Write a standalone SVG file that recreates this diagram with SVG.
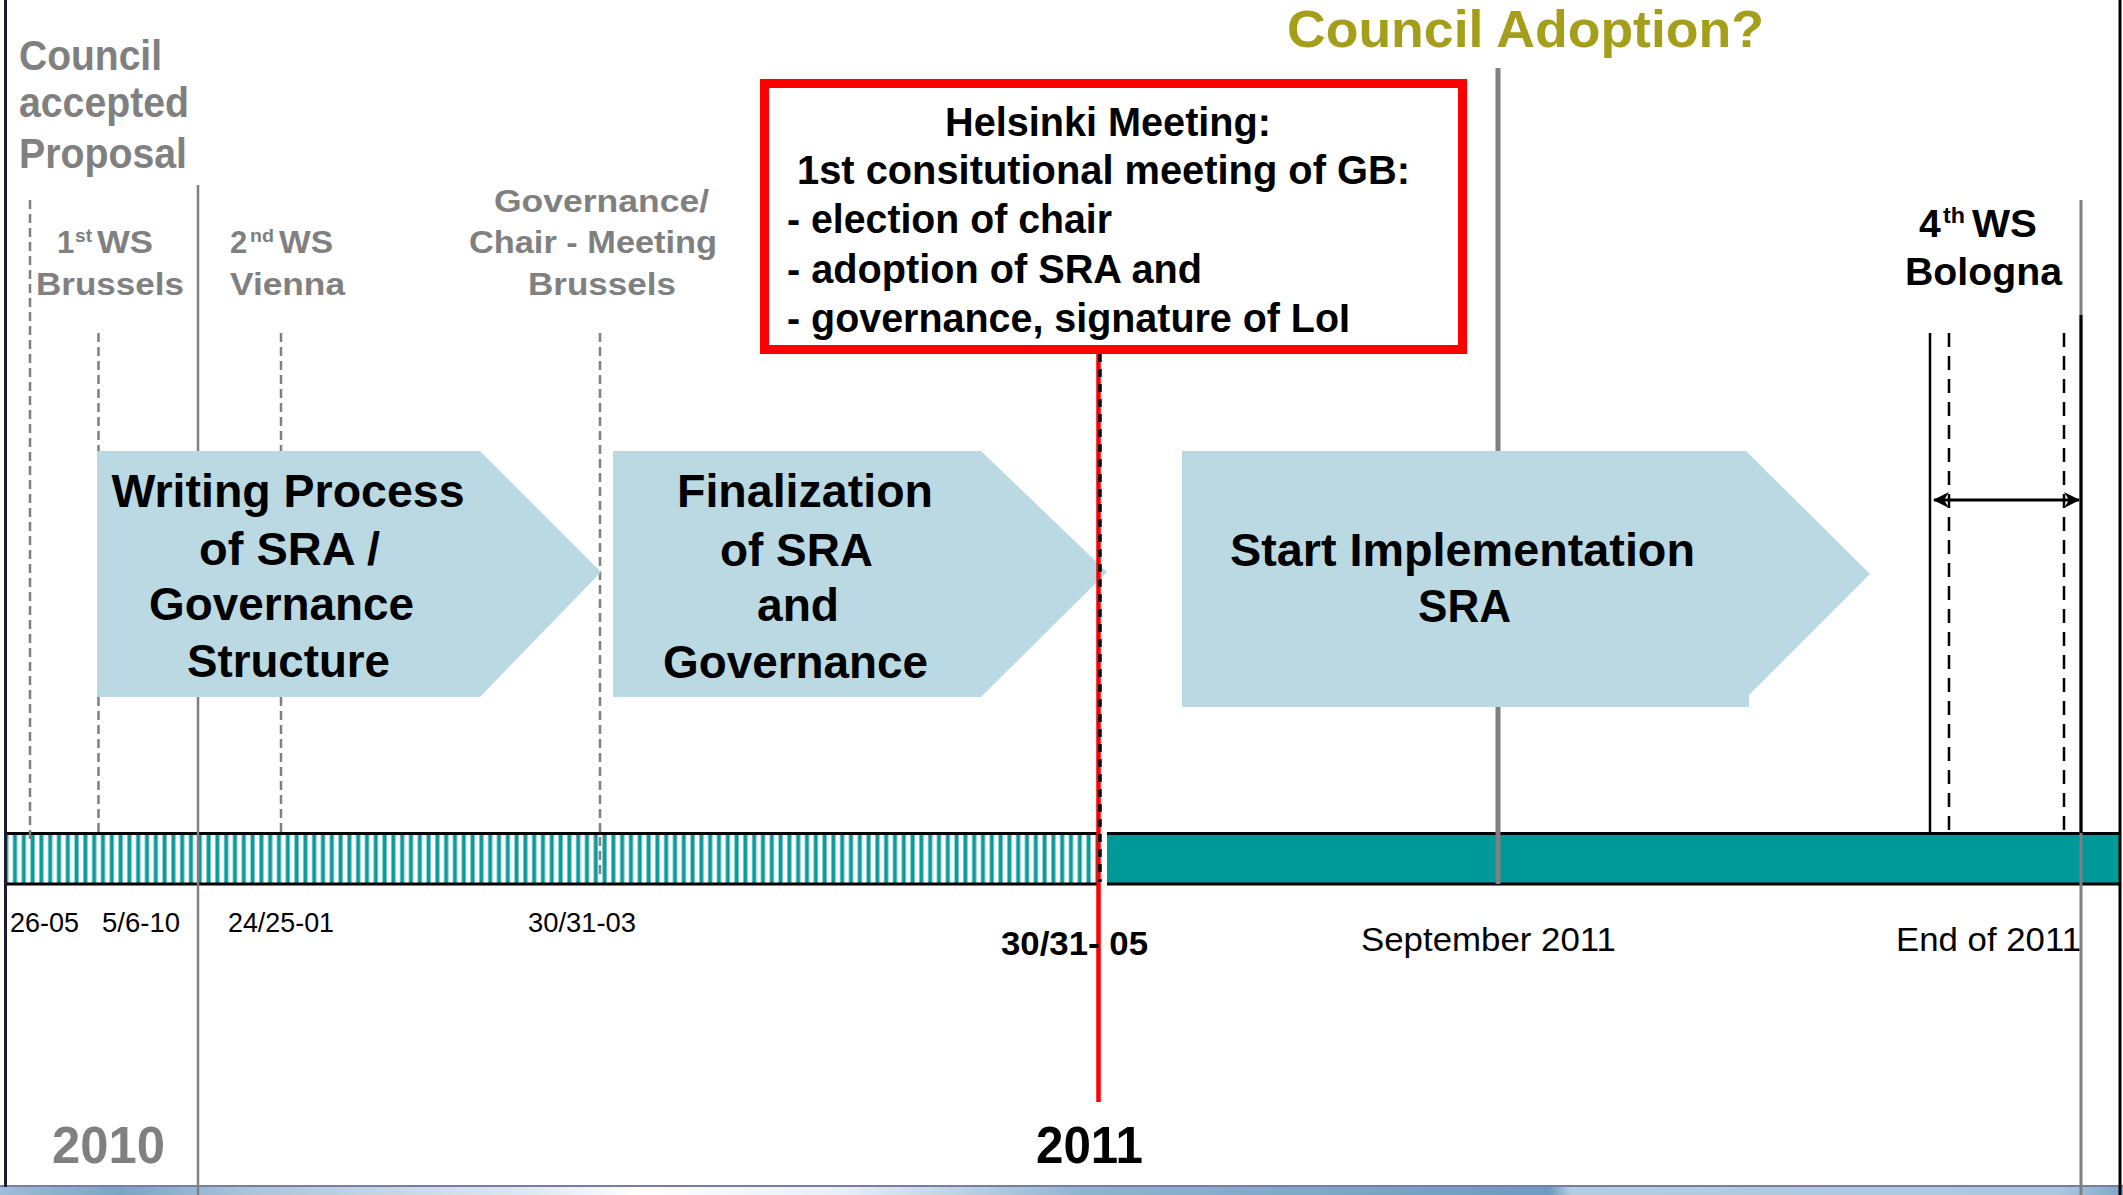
<svg xmlns="http://www.w3.org/2000/svg" width="2123" height="1195" viewBox="0 0 2123 1195">
<style>
text{font-family:"Liberation Sans",Arial,sans-serif}
.b{font-weight:bold}
.gl{font-weight:bold;fill:#808080;font-size:31px}
.sup{font-weight:bold;fill:#808080;font-size:18px}
.hk{font-weight:bold;fill:#000;font-size:41px}
.ar{font-weight:bold;fill:#000;font-size:46px}
.dt{fill:#000;font-size:27px}
.big{fill:#000;font-size:34px}
.arrow{fill:#bbd9e3}
.gdash{stroke:#808080;stroke-width:2.5;stroke-dasharray:9 5;fill:none}
.gsolid{stroke:#808080;fill:none}
.kdash{stroke:#000;stroke-width:2.5;stroke-dasharray:14 9;fill:none}
</style>
<defs>
<pattern id="hatch" patternUnits="userSpaceOnUse" x="12.5" y="0" width="8.8" height="10">
<rect x="0" y="0" width="5" height="10" fill="#7fcccc"/>
<rect x="1" y="0" width="3" height="10" fill="#0f9a9a"/>
</pattern>
<linearGradient id="strip" x1="0" y1="0" x2="1" y2="0">
<stop offset="0" stop-color="#9dbcd8"/>
<stop offset="0.057" stop-color="#7aa3c8"/>
<stop offset="0.115" stop-color="#a9c3da"/>
<stop offset="0.255" stop-color="#e0ebf3"/>
<stop offset="0.3" stop-color="#ffffff"/>
<stop offset="0.395" stop-color="#e8f0f6"/>
<stop offset="0.51" stop-color="#8fb3d2"/>
<stop offset="0.73" stop-color="#6d9ac3"/>
<stop offset="0.74" stop-color="#b3cde2"/>
<stop offset="0.97" stop-color="#aac7de"/>
<stop offset="1" stop-color="#7fa6c9"/>
</linearGradient>
<marker id="ah" viewBox="0 0 16 16" refX="15" refY="8" markerWidth="16" markerHeight="16" markerUnits="userSpaceOnUse" orient="auto-start-reverse">
<path d="M0,0 L16,8 L0,16 L5,8 Z" fill="#000"/>
</marker>
</defs>
<rect x="0" y="0" width="2123" height="1195" fill="#fff"/>

<g id="bottom-strip">
<rect x="0" y="1187" width="2123" height="8" fill="url(#strip)"/>
<line x1="0" y1="1186" x2="2123" y2="1186" stroke="#7c7ca0" stroke-width="2"/>
</g>

<g id="timeline-bar">
<rect x="6" y="834" width="1091" height="50" fill="url(#hatch)"/>
<rect x="1107" y="834" width="1012" height="50" fill="#009999"/>
<line x1="6" y1="833.5" x2="1097" y2="833.5" stroke="#000" stroke-width="3"/>
<line x1="6" y1="884" x2="1097" y2="884" stroke="#000" stroke-width="3"/>
<line x1="1107" y1="833.5" x2="2119" y2="833.5" stroke="#000" stroke-width="3"/>
<line x1="1107" y1="884" x2="2119" y2="884" stroke="#000" stroke-width="3"/>
</g>

<g id="connectors">
<line class="gdash" x1="30" y1="200" x2="30" y2="840"/>
<line class="gdash" x1="98.5" y1="333" x2="98.5" y2="833"/>
<line class="gdash" x1="281" y1="333" x2="281" y2="833"/>
<line class="gdash" x1="600" y1="333" x2="600" y2="878" stroke-width="3.5"/>
<line class="gsolid" x1="198" y1="185" x2="198" y2="1195" stroke-width="2.5"/>
<line class="gsolid" x1="1498" y1="68" x2="1498" y2="884" stroke-width="5"/>
<line class="gsolid" x1="2081" y1="200" x2="2081" y2="1195" stroke-width="3"/>
<line x1="2081" y1="315" x2="2081" y2="833" stroke="#000" stroke-width="3"/>
<line x1="1930" y1="333" x2="1930" y2="833" stroke="#000" stroke-width="2.5"/>
<line class="kdash" x1="1949" y1="333" x2="1949" y2="833"/>
<line class="kdash" x1="2064" y1="333" x2="2064" y2="833"/>
<line x1="1934" y1="500" x2="2079" y2="500" stroke="#000" stroke-width="3" marker-start="url(#ah)" marker-end="url(#ah)"/>
</g>

<g id="border">
<line x1="5.5" y1="0" x2="5.5" y2="1187" stroke="#1c1c30" stroke-width="3"/>
<line x1="2120" y1="0" x2="2120" y2="1195" stroke="#000" stroke-width="3"/>
</g>

<g id="phase-writing">
<polygon class="arrow" points="97,451 480,451 601,572 480,697 97,697"/>
<text class="ar" x="111.5" y="507" textLength="353" lengthAdjust="spacingAndGlyphs">Writing Process</text>
<text class="ar" x="199" y="565" textLength="181" lengthAdjust="spacingAndGlyphs">of SRA /</text>
<text class="ar" x="149" y="620" textLength="265" lengthAdjust="spacingAndGlyphs">Governance</text>
<text class="ar" x="187" y="677" textLength="203" lengthAdjust="spacingAndGlyphs">Structure</text>
</g>

<g id="phase-finalization">
<polygon class="arrow" points="613,451 981,451 1107,572 981,697 613,697"/>
<text class="ar" x="677" y="507" textLength="256" lengthAdjust="spacingAndGlyphs">Finalization</text>
<text class="ar" x="720" y="566" textLength="153" lengthAdjust="spacingAndGlyphs">of SRA</text>
<text class="ar" x="757" y="621" textLength="82" lengthAdjust="spacingAndGlyphs">and</text>
<text class="ar" x="663" y="678" textLength="265" lengthAdjust="spacingAndGlyphs">Governance</text>
</g>

<g id="phase-implementation">
<polygon class="arrow" points="1182,451 1746,451 1870,574 1749,695 1749,707 1182,707"/>
<text class="ar" x="1230" y="566" textLength="465" lengthAdjust="spacingAndGlyphs">Start Implementation</text>
<text class="ar" x="1418" y="622" textLength="93" lengthAdjust="spacingAndGlyphs">SRA</text>
</g>

<g id="helsinki-meeting">
<rect x="764.5" y="83.5" width="698" height="266" fill="#fff" stroke="#ff0000" stroke-width="9"/>
<text class="hk" x="945" y="136" textLength="326" lengthAdjust="spacingAndGlyphs">Helsinki Meeting:</text>
<text class="hk" x="797" y="184" textLength="613" lengthAdjust="spacingAndGlyphs">1st consitutional meeting of GB:</text>
<text class="hk" x="787" y="233" textLength="325" lengthAdjust="spacingAndGlyphs">- election of chair</text>
<text class="hk" x="787" y="283" textLength="415" lengthAdjust="spacingAndGlyphs">- adoption of SRA and</text>
<text class="hk" x="787" y="332" textLength="563" lengthAdjust="spacingAndGlyphs">- governance, signature of LoI</text>
</g>

<g id="helsinki-line">
<line x1="1098.5" y1="354" x2="1098.5" y2="1102" stroke="#ff0000" stroke-width="4.5"/>
<line x1="1100" y1="354" x2="1100" y2="882" stroke="#000" stroke-width="3.5" stroke-dasharray="8 7"/>
</g>

<g id="council-accepted">
<text class="gl" x="19" y="70" style="font-size:43px" textLength="143" lengthAdjust="spacingAndGlyphs">Council</text>
<text class="gl" x="19" y="117" style="font-size:43px" textLength="170" lengthAdjust="spacingAndGlyphs">accepted</text>
<text class="gl" x="19" y="168" style="font-size:43px" textLength="168" lengthAdjust="spacingAndGlyphs">Proposal</text>
</g>

<g id="ws1">
<text class="gl" x="57" y="253">1</text>
<text class="sup" x="75" y="242" textLength="17" lengthAdjust="spacingAndGlyphs">st</text>
<text class="gl" x="97" y="253" textLength="56" lengthAdjust="spacingAndGlyphs">WS</text>
<text class="gl" x="36" y="295" textLength="148" lengthAdjust="spacingAndGlyphs">Brussels</text>
</g>

<g id="ws2">
<text class="gl" x="230" y="253">2</text>
<text class="sup" x="250" y="242" textLength="24" lengthAdjust="spacingAndGlyphs">nd</text>
<text class="gl" x="279" y="253" textLength="54" lengthAdjust="spacingAndGlyphs">WS</text>
<text class="gl" x="230" y="295" textLength="115" lengthAdjust="spacingAndGlyphs">Vienna</text>
</g>

<g id="governance-meeting">
<text class="gl" x="494" y="212" textLength="215" lengthAdjust="spacingAndGlyphs">Governance/</text>
<text class="gl" x="469" y="253" textLength="248" lengthAdjust="spacingAndGlyphs">Chair - Meeting</text>
<text class="gl" x="528" y="295" textLength="148" lengthAdjust="spacingAndGlyphs">Brussels</text>
</g>

<g id="council-adoption">
<text class="b" x="1287" y="47" style="font-size:52px;fill:#a59e1b" textLength="477" lengthAdjust="spacingAndGlyphs">Council Adoption?</text>
</g>

<g id="ws4">
<text class="b" x="1919" y="237" style="font-size:39px">4</text>
<text class="b" x="1943" y="223" style="font-size:22px" textLength="22" lengthAdjust="spacingAndGlyphs">th</text>
<text class="b" x="1972" y="237" style="font-size:39px" textLength="65" lengthAdjust="spacingAndGlyphs">WS</text>
<text class="b" x="1905" y="285" style="font-size:39px" textLength="157" lengthAdjust="spacingAndGlyphs">Bologna</text>
</g>

<g id="dates">
<text class="dt" x="10" y="932" textLength="69" lengthAdjust="spacingAndGlyphs">26-05</text>
<text class="dt" x="102" y="932" textLength="78" lengthAdjust="spacingAndGlyphs">5/6-10</text>
<text class="dt" x="228" y="932" textLength="106" lengthAdjust="spacingAndGlyphs">24/25-01</text>
<text class="dt" x="528" y="932" textLength="108" lengthAdjust="spacingAndGlyphs">30/31-03</text>
<text class="b" x="1001" y="955" style="font-size:33px" textLength="147" lengthAdjust="spacingAndGlyphs">30/31- 05</text>
<text class="big" x="1361" y="951" textLength="255" lengthAdjust="spacingAndGlyphs">September 2011</text>
<text class="big" x="1896" y="951" textLength="185" lengthAdjust="spacingAndGlyphs">End of 2011</text>
</g>

<g id="years">
<text class="b" x="52" y="1163" style="font-size:51px;fill:#808080" textLength="113" lengthAdjust="spacingAndGlyphs">2010</text>
<text class="b" x="1036" y="1163" style="font-size:51px;fill:#000" textLength="107" lengthAdjust="spacingAndGlyphs">2011</text>
</g>
</svg>
